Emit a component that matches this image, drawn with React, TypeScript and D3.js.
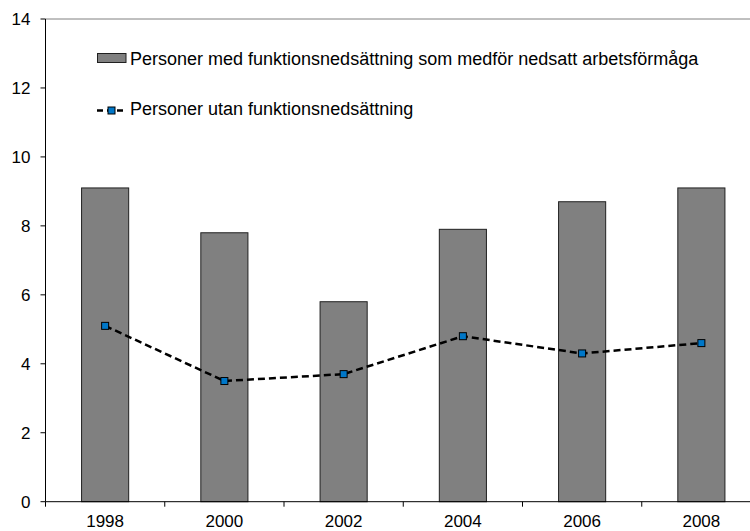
import React from "react";
import * as d3 from "d3";

const years = ["1998", "2000", "2002", "2004", "2006", "2008"];
const withDisability = [9.1, 7.8, 5.8, 7.9, 8.7, 9.1];
const withoutDisability = [5.1, 3.5, 3.7, 4.8, 4.3, 4.6];
const yTicks = [0, 2, 4, 6, 8, 10, 12, 14];
const legendLabels = [
  "Personer med funktionsnedsättning som medför nedsatt arbetsförmåga",
  "Personer utan funktionsnedsättning",
];

const W = 750;
const H = 531;
const left = 45.5;
const right = 761;
const top = 19;
const bottom = 501.7;
const font = "Arial, 'Liberation Sans', sans-serif";

export default function App() {
  const x = d3.scaleBand<string>().domain(years).range([left, right]).paddingInner(0.605).paddingOuter(0.3025);
  const y = d3.scaleLinear().domain([0, 14]).range([bottom, top]);
  const band = d3.scaleBand<string>().domain(years).range([left, right]);
  const line = d3
    .line<number>()
    .x((_, i) => band(years[i])! + band.bandwidth() / 2)
    .y((d) => y(d));

  return (
    <svg width={W} height={H} style={{ position: "absolute", left: 0, top: 0 }} fontFamily={font}>
      <rect width={W} height={H} fill="#fff" />
      <line x1={left} x2={W} y1={y(14)} y2={y(14)} stroke="#808080" strokeWidth={1} />
      {years.map((yr, i) => (
        <rect
          key={yr}
          x={x(yr)!}
          y={y(withDisability[i])}
          width={x.bandwidth()}
          height={y(0) - y(withDisability[i])}
          fill="#808080"
          stroke="#202020"
          strokeWidth={1}
        />
      ))}
      <line x1={left} x2={left} y1={top} y2={bottom} stroke="#000" />
      {yTicks.map((t) => (
        <g key={t}>
          <line x1={left - 5} x2={left} y1={y(t)} y2={y(t)} stroke="#000" />
          <text x={left - 15} y={y(t)} dy="0.36em" textAnchor="end" fontSize={17} fill="#000">
            {t}
          </text>
        </g>
      ))}
      <line x1={left} x2={W} y1={bottom} y2={bottom} stroke="#000" />
      {years.map((yr) => (
        <g key={yr}>
          <line x1={band(yr)!} x2={band(yr)!} y1={bottom} y2={bottom + 5} stroke="#000" />
          <text x={band(yr)! + band.bandwidth() / 2} y={527} textAnchor="middle" fontSize={17} fill="#000">
            {yr}
          </text>
        </g>
      ))}
      <path d={line(withoutDisability)!} fill="none" stroke="#000" strokeWidth={2.5} strokeDasharray="7,4" />
      {withoutDisability.map((v, i) => (
        <rect
          key={i}
          x={band(years[i])! + band.bandwidth() / 2 - 3.5}
          y={y(v) - 3.5}
          width={7}
          height={7}
          fill="#0077C8"
          stroke="#000"
          strokeWidth={1}
        />
      ))}
      <rect x={97.5} y={53.5} width={28.5} height={9} fill="#808080" stroke="#202020" />
      <text x={130} y={65} fontSize={18} fill="#000">
        {legendLabels[0]}
      </text>
      <line x1={97} x2={126} y1={110.5} y2={110.5} stroke="#000" strokeWidth={2.5} strokeDasharray="6,4" />
      <rect x={108} y={107} width={7} height={7} fill="#0077C8" stroke="#000" />
      <text x={130} y={115} fontSize={18} fill="#000">
        {legendLabels[1]}
      </text>
    </svg>
  );
}
